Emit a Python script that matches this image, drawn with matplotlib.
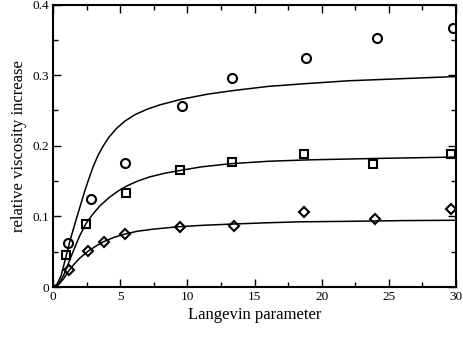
import matplotlib
matplotlib.use("Agg")
import matplotlib.pyplot as plt
from matplotlib.ticker import MultipleLocator, FixedFormatter, FixedLocator

# Measured data points
circle_x = [1.14, 2.83, 5.36, 9.6, 13.35, 18.84, 24.1, 29.76]
circle_y = [0.062, 0.125, 0.175, 0.256, 0.296, 0.324, 0.353, 0.367]

square_x = [0.94, 2.48, 5.43, 9.48, 13.3, 18.67, 23.8, 29.6]
square_y = [0.0457, 0.0895, 0.133, 0.165, 0.177, 0.189, 0.174, 0.188]

diamond_x = [1.19, 2.63, 3.8, 5.34, 9.48, 13.45, 18.7, 24.0, 29.6]
diamond_y = [0.0236, 0.0509, 0.0636, 0.0749, 0.0843, 0.0862, 0.1056, 0.0957, 0.110]

# Curves
top_x = [0, 0.3, 0.6, 0.9, 1.27, 1.7, 2.08, 2.35, 2.63, 3.0, 3.37, 3.75, 4.12, 4.7, 5.36,
         6.1, 6.98, 7.97, 9.6, 11.5, 13.35, 16, 18.84, 22, 26, 30]
top_y = [0, 0.004, 0.016, 0.038, 0.066, 0.094, 0.118, 0.135, 0.151, 0.171, 0.187, 0.200,
         0.211, 0.224, 0.235, 0.244, 0.2515, 0.258, 0.266, 0.273, 0.278, 0.284, 0.288,
         0.292, 0.295, 0.298]

mid_x = [0, 0.4, 0.8, 1.2, 1.6, 2.0, 2.46, 3.0, 3.5, 4.2, 4.86, 5.49, 6.3, 7.22, 8.3,
         9.46, 11, 13.18, 16, 19, 24, 30]
mid_y = [0, 0.004, 0.017, 0.036, 0.055, 0.073, 0.090, 0.104, 0.115, 0.127, 0.136, 0.143,
         0.150, 0.156, 0.161, 0.165, 0.170, 0.1745, 0.178, 0.180, 0.182, 0.184]

bot_x = [0, 0.4, 0.8, 1.14, 1.6, 2.0, 2.63, 3.2, 3.75, 4.5, 5.36, 6.3, 7.5, 9.46, 11.3,
         13.18, 16, 18.4, 22, 26, 30]
bot_y = [0, 0.003, 0.012, 0.022, 0.033, 0.041, 0.051, 0.058, 0.064, 0.070, 0.075, 0.079,
         0.082, 0.0855, 0.0875, 0.089, 0.091, 0.0923, 0.093, 0.094, 0.0945]

x_ticks = [0, 5, 10, 15, 20, 25, 30]
x_ticklabels = ["0", "5", "10", "15", "20", "25", "30"]
y_ticks = [0, 0.1, 0.2, 0.3, 0.4]
y_ticklabels = ["0", "0.1", "0.2", "0.3", "0.4"]

plt.rcParams["font.family"] = ["Liberation Serif", "DejaVu Serif"]

fig = plt.figure(figsize=(4.63, 3.37), dpi=100)
ax = fig.add_axes([53 / 463, 1 - 287 / 337, (456 - 53) / 463, (287 - 4.5) / 337])

for cx, cy in [(top_x, top_y), (mid_x, mid_y), (bot_x, bot_y)]:
    ax.plot(cx, cy, color="black", lw=1.1, zorder=2, solid_joinstyle="round")

ax.plot(circle_x, circle_y, ls="none", marker="o", ms=6.5, mfc="none", mec="black", mew=1.5, zorder=3)
ax.plot(square_x, square_y, ls="none", marker="s", ms=5.8, mfc="none", mec="black", mew=1.5, zorder=3)
ax.plot(diamond_x, diamond_y, ls="none", marker="D", ms=5.2, mfc="none", mec="black", mew=1.5, zorder=3)

ax.set_xlim(0, 30)
ax.set_ylim(0, 0.4)
ax.xaxis.set_major_locator(FixedLocator(x_ticks))
ax.xaxis.set_major_formatter(FixedFormatter(x_ticklabels))
ax.yaxis.set_major_locator(FixedLocator(y_ticks))
ax.yaxis.set_major_formatter(FixedFormatter(y_ticklabels))
ax.xaxis.set_minor_locator(MultipleLocator(2.5))
ax.yaxis.set_minor_locator(MultipleLocator(0.05))

ax.tick_params(which="both", direction="in", top=True, right=True, width=1.0, labelsize=9.5, pad=3)
ax.tick_params(which="major", length=5.8)
ax.tick_params(which="minor", length=3.6)
for s in ax.spines.values():
    s.set_linewidth(1.5)

ax.set_xlabel("Langevin parameter", fontsize=12, labelpad=3)
ax.set_ylabel("relative viscosity increase", fontsize=12, labelpad=4)

fig.savefig("out.png", dpi=100)
